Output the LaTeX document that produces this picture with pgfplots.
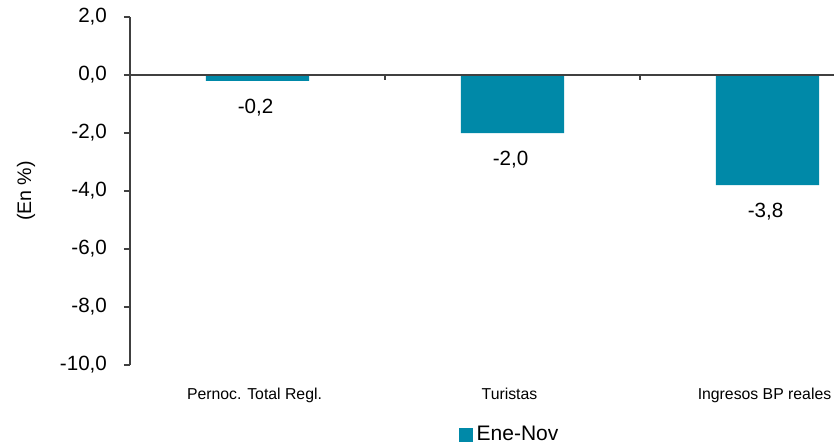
\documentclass[border=0pt]{standalone}
\usepackage{fontspec}
\setmainfont{Liberation Sans}
\usepackage{pgfplots}
\pgfplotsset{compat=1.18}
\pgfkeys{/pgf/number format/.cd, fixed, fixed zerofill, precision=1, use comma, assume math mode=true}
\definecolor{barc}{RGB}{0,137,168}
\definecolor{axc}{RGB}{64,64,64}
\begin{document}
\begin{tikzpicture}
\useasboundingbox (-65pt,-40pt) rectangle (352pt,182.5pt);
\begin{axis}[
  at={(0,0)}, anchor=south west,
  scale only axis, width=352pt, height=174pt,
  xmin=-0.5, xmax=2.2608, ymin=-10, ymax=2,
  ybar, bar width=0.404,
  axis y line*=left, axis x line*=bottom,
  x axis line style={draw=none},
  y axis line style={draw=axc, line width=0.6pt},
  ytick={-10,-8,-6,-4,-2,0,2},
  xtick={0,1,2},
  xticklabels={Pernoc. Total Regl., Turistas, Ingresos BP reales},
  xtick style={draw=none},
  ytick style={draw=axc, line width=0.6pt},
  tick align=outside, major tick length=3pt,
  yticklabel style={font=\fontsize{10.3}{12}\selectfont, xshift=-5pt},
  xticklabel style={font=\fontsize{7.9}{9}\selectfont, yshift=-5pt, xshift=-1.5pt},
  ylabel={(En \%)},
  ylabel style={at={(axis description cs:-0.1477,0.5)}, anchor=center, font=\fontsize{9.8}{11}\selectfont},
  legend style={at={(axis description cs:0.5405,-0.201)}, anchor=center, draw=none, fill=none, font=\fontsize{10.5}{12}\selectfont},
  legend image code/.code={\fill[barc] (0pt,-3.5pt) rectangle (7pt,3.5pt);},
  nodes near coords,
  every node near coord/.append style={font=\fontsize{10.3}{12}\selectfont, text=black, yshift=-5.5pt, xshift=-1pt},
]
\addplot[fill=barc, draw=none] coordinates {(0,-0.2) (1,-2.0) (2,-3.8)};
\addlegendentry{Ene-Nov}
\draw[axc, line width=0.6pt] (axis cs:-0.5,0) -- (axis cs:2.2608,0);
\draw[axc, line width=0.6pt] (axis cs:0.5,0) -- ([yshift=-2.5pt]axis cs:0.5,0);
\draw[axc, line width=0.6pt] (axis cs:1.5,0) -- ([yshift=-2.5pt]axis cs:1.5,0);
\end{axis}
\end{tikzpicture}
\end{document}
